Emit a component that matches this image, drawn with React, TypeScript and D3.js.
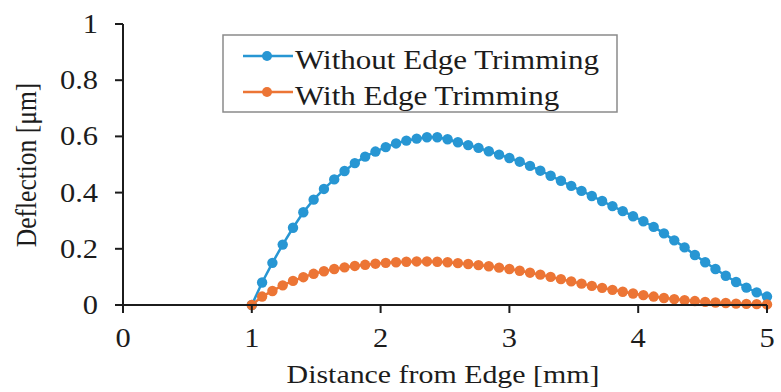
import React from 'react';
import * as d3 from 'd3';

// distance from edge [mm], sampled every 0.08 mm from 1 to 5
const distance = d3.range(51).map(i => +(1 + i * 0.08).toFixed(2));

const withoutTrimming = [
  0, 0.08, 0.15, 0.215, 0.275, 0.33, 0.375, 0.413, 0.447, 0.477,
  0.505, 0.528, 0.546, 0.562, 0.575, 0.585, 0.592, 0.597, 0.597, 0.59,
  0.579, 0.569, 0.559, 0.547, 0.535, 0.523, 0.51, 0.495, 0.478, 0.46,
  0.442, 0.424, 0.406, 0.388, 0.37, 0.352, 0.334, 0.316, 0.298, 0.278,
  0.255, 0.23, 0.205, 0.178, 0.152, 0.128, 0.104, 0.082, 0.062, 0.045,
  0.03,
];

const withTrimming = [
  0, 0.03, 0.05, 0.07, 0.086, 0.099, 0.111, 0.12, 0.128, 0.134,
  0.139, 0.143, 0.147, 0.15, 0.152, 0.154, 0.155, 0.155, 0.154, 0.152,
  0.149, 0.146, 0.142, 0.138, 0.133, 0.128, 0.122, 0.115, 0.108, 0.1,
  0.092, 0.084, 0.076, 0.068, 0.061, 0.054, 0.047, 0.041, 0.035, 0.03,
  0.025, 0.021, 0.017, 0.014, 0.011, 0.009, 0.007, 0.005, 0.004, 0.003,
  0.002,
];

const xTicks = [0, 1, 2, 3, 4, 5];
const yTicks = [0, 0.2, 0.4, 0.6, 0.8, 1];

const seriesNames = ['Without Edge Trimming', 'With Edge Trimming'];
const seriesColors = ['#2796d3', '#ec7535'];

const W = 781;
const H = 392;
const font = '"Liberation Serif", "Times New Roman", serif';
const stretch = 1.15; // the source picture is a little wider than tall
const ink = '#1c1c1c';

export default function App() {
  const x = d3.scaleLinear().domain([0, 5]).range([123, 767]);
  const y = d3.scaleLinear().domain([0, 1]).range([305, 24]);

  const line = d3
    .line<number>()
    .x((d, i) => x(distance[i]))
    .y(d => y(d));

  const series = [withoutTrimming, withTrimming];

  return (
    <svg
      width={W}
      height={H}
      style={{position: 'absolute', left: 0, top: 0, background: '#fff'}}
      fontFamily={font}
    >
      {/* series: orange drawn last so it covers the blue start point */}
      {series.map((vals, s) => (
        <g key={s}>
          <path d={line(vals) || ''} fill="none" stroke={seriesColors[s]} strokeWidth={2.5} />
          {vals.map((v, i) => (
            <circle key={i} cx={x(distance[i])} cy={y(v)} r={5.2} fill={seriesColors[s]} />
          ))}
        </g>
      ))}

      {/* y axis */}
      <line x1={x(0)} x2={x(0)} y1={y(1)} y2={y(0)} stroke={ink} strokeWidth={2} />
      {yTicks.map(t => (
        <g key={t}>
          <line x1={x(0) - 8} x2={x(0)} y1={y(t)} y2={y(t)} stroke={ink} strokeWidth={2} />
          <text
            transform={`translate(98,${y(t) + 9}) scale(${stretch},1)`}
            textAnchor="end"
            fontSize={26.5}
            fill={ink}
          >
            {d3.format('~g')(t)}
          </text>
        </g>
      ))}

      {/* x axis */}
      <line x1={x(0)} x2={x(5)} y1={y(0)} y2={y(0)} stroke={ink} strokeWidth={2} />
      {xTicks.map(t => (
        <g key={t}>
          <line x1={x(t)} x2={x(t)} y1={y(0)} y2={y(0) + 8} stroke={ink} strokeWidth={2} />
          <text
            transform={`translate(${x(t)},347) scale(${stretch},1)`}
            textAnchor="middle"
            fontSize={26.5}
            fill={ink}
          >
            {t}
          </text>
        </g>
      ))}

      {/* axis titles */}
      <text
        transform={`translate(443,383) scale(${stretch},1)`}
        textAnchor="middle"
        fontSize={26}
        fill={ink}
      >
        Distance from Edge [mm]
      </text>
      <text
        transform={`translate(36,165) rotate(-90) scale(1,${stretch})`}
        textAnchor="middle"
        fontSize={25.5}
        fill={ink}
      >
        Deflection [μm]
      </text>

      {/* legend */}
      <rect x={223} y={35} width={394} height={77} fill="#fff" stroke="#8a8a8a" strokeWidth={1.5} />
      {seriesNames.map((name, s) => {
        const ly = 56 + s * 36;
        return (
          <g key={name}>
            <line x1={243} x2={293} y1={ly} y2={ly} stroke={seriesColors[s]} strokeWidth={2.5} />
            <circle cx={267} cy={ly} r={5} fill={seriesColors[s]} />
            <text
              transform={`translate(295,${ly + 13}) scale(${stretch},1)`}
              fontSize={27}
              fill={ink}
            >
              {name}
            </text>
          </g>
        );
      })}
    </svg>
  );
}
